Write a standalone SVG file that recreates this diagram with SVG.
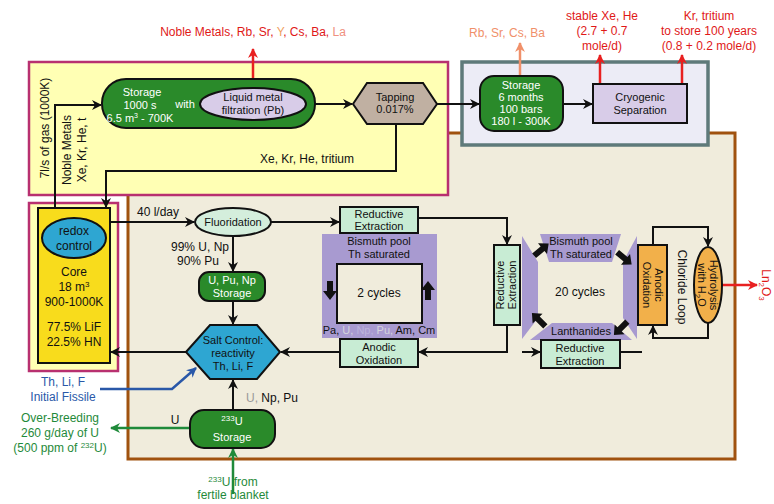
<svg xmlns="http://www.w3.org/2000/svg" width="774" height="504" viewBox="0 0 774 504">
<style>
text{font-family:"Liberation Sans","DejaVu Sans",sans-serif;font-size:11px;fill:#111;text-anchor:middle}
.w{fill:#fff}
.red{fill:#e01818;font-size:12px}
.sal{fill:#f0906a;font-size:12px}
.grn{fill:#1f8a3a;font-size:12px}
.blu{fill:#2a58a8;font-size:12px}
.l{font-size:12px}
.g{fill:#999}
.gw{fill:#d4d4dc}
.gl{fill:#bcb4dc}
.y{fill:#f0a060}
.stor{fill:#2a8a2a;stroke:#111;stroke-width:2}
.lav{fill:#d8cce8;stroke:#111;stroke-width:2}
.mint{fill:#c8ecd4;stroke:#111;stroke-width:2}
.pur{fill:#a89ad0}
.ln{fill:none;stroke:#111;stroke-width:2}
.blk{fill:#111}
</style>
<defs>
<marker id="ab" viewBox="0 0 10 10" refX="9" refY="5" markerWidth="10" markerHeight="10" markerUnits="userSpaceOnUse" orient="auto"><path d="M0,0 L10,5 L0,10 L3,5 Z" fill="#111"/></marker>
<marker id="ar" viewBox="0 0 10 10" refX="9" refY="5" markerWidth="10" markerHeight="10" markerUnits="userSpaceOnUse" orient="auto"><path d="M0,0 L10,5 L0,10 L3,5 Z" fill="#e82020"/></marker>
<marker id="as" viewBox="0 0 10 10" refX="9" refY="5" markerWidth="10" markerHeight="10" markerUnits="userSpaceOnUse" orient="auto"><path d="M0,0 L10,5 L0,10 L3,5 Z" fill="#f0906a"/></marker>
<marker id="ag" viewBox="0 0 10 10" refX="9" refY="5" markerWidth="10" markerHeight="10" markerUnits="userSpaceOnUse" orient="auto"><path d="M0,0 L10,5 L0,10 L3,5 Z" fill="#1f8a3a"/></marker>
<marker id="abl" viewBox="0 0 10 10" refX="9" refY="5" markerWidth="10" markerHeight="10" markerUnits="userSpaceOnUse" orient="auto"><path d="M0,0 L10,5 L0,10 L3,5 Z" fill="#2a58a8"/></marker>
<path id="barrow" d="M-9,-3 L2,-3 L2,-7 L10,0 L2,7 L2,3 L-9,3 Z"/>
</defs>

<!-- background regions -->
<g id="regions">
<rect x="0" y="0" width="774" height="504" fill="#fff"/>
<rect x="128" y="133" width="607" height="326" fill="#f0ecdc" stroke="#a0520f" stroke-width="3"/>
<rect x="29" y="62" width="419" height="133" fill="#ffffb4" stroke="#b83070" stroke-width="2.5"/>
<rect x="462" y="62" width="246" height="83" fill="#ececf6" stroke="#5e7a7a" stroke-width="3.5"/>
<rect x="29" y="203" width="89" height="168" fill="#ffffb4" stroke="#b83070" stroke-width="2.5"/>
</g>

<!-- connectors -->
<g id="connectors">
<path class="ln" d="M55,208 V105 H101" marker-end="url(#ab)"/>
<path class="ln" d="M315,104 H352" marker-end="url(#ab)"/>
<path class="ln" d="M437,104 H479" marker-end="url(#ab)"/>
<path class="ln" d="M563,104 H592" marker-end="url(#ab)"/>
<path class="ln" d="M396,124 V171 H106 V207" marker-end="url(#ab)"/>
<path d="M253,88 V49" stroke="#e82020" stroke-width="2.5" fill="none" marker-end="url(#ar)"/>
<path d="M520,76 V43" stroke="#f0906a" stroke-width="2.5" fill="none" marker-end="url(#as)"/>
<path d="M600,84 V55" stroke="#e82020" stroke-width="2.5" fill="none" marker-end="url(#ar)"/>
<path d="M682,84 V55" stroke="#e82020" stroke-width="2.5" fill="none" marker-end="url(#ar)"/>
<path class="ln" d="M110,222 H194" marker-end="url(#ab)"/>
<path class="ln" d="M271,222 H339" marker-end="url(#ab)"/>
<path class="ln" d="M418,218 H507 V244" marker-end="url(#ab)"/>
<path class="ln" d="M233,236 V271" marker-end="url(#ab)"/>
<path class="ln" d="M233,301 V324" marker-end="url(#ab)"/>
<path class="ln" d="M507,325 V352 H419" marker-end="url(#ab)"/>
<path class="ln" d="M340,352 H281" marker-end="url(#ab)"/>
<path class="ln" d="M186,352 H111" marker-end="url(#ab)"/>
<path class="ln" d="M233,410 V380" marker-end="url(#ab)"/>
<path class="ln" d="M522,352 H540" marker-end="url(#ab)"/>
<path class="ln" d="M620,352 H642"/>
<path class="ln" d="M653,245 V227 H708 V246" marker-end="url(#ab)"/>
<path class="ln" d="M708,323 V338 H653 V326" marker-end="url(#ab)"/>
<path d="M722,285 H757" stroke="#e82020" stroke-width="2.5" fill="none" marker-end="url(#ar)"/>
<path d="M100,389 H172 L196,368" stroke="#2a58a8" stroke-width="2.5" fill="none" marker-end="url(#abl)"/>
<path d="M190,428 H111" stroke="#1f8a3a" stroke-width="2.5" fill="none" marker-end="url(#ag)"/>
<path d="M233,494 V449" stroke="#1f8a3a" stroke-width="2.5" fill="none" marker-end="url(#ag)"/>
</g>

<!-- free labels -->
<g id="labels">
<text class="red" x="253" y="36">Noble Metals, Rb, Sr, <tspan class="y">Y</tspan>, Cs, Ba, <tspan fill="#f09080">La</tspan></text>
<text class="sal" x="507" y="37">Rb, Sr, Cs, Ba</text>
<text class="red" x="602" y="20">stable Xe, He</text>
<text class="red" x="602" y="35">(2.7 + 0.7</text>
<text class="red" x="602" y="50">mole/d)</text>
<text class="red" x="709" y="20">Kr, tritium</text>
<text class="red" x="709" y="35">to store 100 years</text>
<text class="red" x="709" y="50">(0.8 + 0.2 mole/d)</text>
<text class="l" transform="translate(49,128) rotate(-90)">7l/s of gas (1000K)</text>
<text class="l" transform="translate(71,150) rotate(-90)">Noble Metals</text>
<text class="l" transform="translate(86,150) rotate(-90)">Xe, Kr, He, t</text>
<text class="l" x="307" y="163">Xe, Kr, He, tritium</text>
<text class="l" x="158" y="216">40 l/day</text>
<text class="l" x="200" y="251">99% U, Np</text>
<text class="l" x="198" y="265">90% Pu</text>
<text class="l" x="272" y="402"><tspan class="g">U,</tspan> Np, Pu</text>
<text class="l" x="175" y="424">U</text>
<text class="blu" x="63" y="386">Th, Li, F</text>
<text class="blu" x="63" y="401">Initial Fissile</text>
<text class="grn" x="60" y="422">Over-Breeding</text>
<text class="grn" x="60" y="437">260 g/day of U</text>
<text class="grn" x="60" y="452">(500 ppm of <tspan font-size="8" dy="-4">232</tspan><tspan dy="4">U)</tspan></text>
<text class="grn" x="233" y="486"><tspan font-size="8" dy="-4">233</tspan><tspan dy="4">U from</tspan></text>
<text class="grn" x="233" y="499">fertile blanket</text>
<text class="l" transform="translate(678,287) rotate(90)">Chloride Loop</text>
<text class="red" transform="translate(762,285) rotate(90)">Ln<tspan font-size="8" dy="3">2</tspan><tspan dy="-3">O</tspan><tspan font-size="8" dy="3">3</tspan></text>
</g>

<g id="storage1">
<rect class="stor" x="102" y="79" width="213" height="49" rx="24"/>
<text class="w" x="142" y="96">Storage</text>
<text class="w" x="140" y="109">1000 s</text>
<text class="w" x="140" y="122">6.5 m<tspan font-size="7" dy="-4">3</tspan><tspan dy="4"> - 700K</tspan></text>
<text class="w" x="185" y="108">with</text>
</g>
<g id="filtration">
<ellipse class="lav" cx="253" cy="104" rx="53" ry="16"/>
<text x="253" y="101">Liquid metal</text>
<text x="253" y="114">filtration (Pb)</text>
</g>
<g id="tapping">
<polygon points="353,104 367,83 423,83 437,104 423,124 367,124" fill="#c0b0a2" stroke="#111" stroke-width="2"/>
<text x="395" y="101">Tapping</text>
<text x="395" y="113">0.017%</text>
</g>
<g id="storage2">
<rect class="stor" x="480" y="76" width="83" height="55" rx="14"/>
<text class="w" x="521" y="89">Storage</text>
<text class="w" x="521" y="101">6 months</text>
<text class="w" x="521" y="113">100 bars</text>
<text class="w" x="521" y="125">180 l - 300K</text>
</g>
<g id="cryogenic">
<rect class="lav" x="593" y="84" width="94" height="39"/>
<text x="640" y="101">Cryogenic</text>
<text x="640" y="114">Separation</text>
</g>
<g id="core">
<rect x="38" y="208" width="72" height="155" fill="#f8dc1c" stroke="#111" stroke-width="2"/>
<ellipse cx="74" cy="238" rx="32" ry="20" fill="#2ea6d2" stroke="#111" stroke-width="2"/>
<text class="l" x="74" y="235">redox</text>
<text class="l" x="74" y="250">control</text>
<text class="l" x="74" y="276">Core</text>
<text class="l" x="74" y="291">18 m<tspan font-size="8" dy="-4">3</tspan></text>
<text class="l" x="74" y="306">900-1000K</text>
<text class="l" x="74" y="331">77.5% LiF</text>
<text class="l" x="74" y="346">22.5% HN</text>
</g>
<g id="fluoridation">
<ellipse cx="233" cy="222" rx="38" ry="14" fill="#d4eedc" stroke="#111" stroke-width="2"/>
<text x="233" y="226">Fluoridation</text>
</g>
<g id="upnp-storage">
<rect class="stor" x="199" y="272" width="66" height="29" rx="10"/>
<text class="w" x="232" y="284">U, Pu, Np</text>
<text class="w" x="232" y="297">Storage</text>
</g>
<g id="salt-control">
<polygon points="186,352 210,325 257,325 280,352 257,379 210,379" fill="#2ea6d2" stroke="#111" stroke-width="2"/>
<text x="233" y="344">Salt Control:</text>
<text x="233" y="357">reactivity</text>
<text x="233" y="370">Th, Li, F</text>
</g>
<g id="u233-storage">
<rect class="stor" x="190" y="410" width="85" height="38" rx="14"/>
<text class="w" x="232" y="425"><tspan font-size="8" dy="-4">233</tspan><tspan dy="4">U</tspan></text>
<text class="w" x="232" y="441">Storage</text>
</g>
<g id="bismuth-2cycles">
<path class="pur" fill-rule="evenodd" d="M322,234 H437 V338 H322 Z M337,264 V323 H422 V264 Z"/>
<path d="M337,264 V323 H422 V264 Z" fill="none" stroke="#111" stroke-width="2"/>
<text x="379" y="245">Bismuth pool</text>
<text x="379" y="258">Th saturated</text>
<text class="l" x="379" y="297">2 cycles</text>
<text x="379" y="334" font-size="9.5">Pa, <tspan class="gw">U,</tspan> <tspan class="gl">Np,</tspan> <tspan class="gw">Pu,</tspan> Am, Cm</text>
<polygon class="blk" points="327,281 333,281 333,291 337,291 330,300 323,291 327,291"/>
<polygon class="blk" points="425,300 431,300 431,290 435,290 428,281 421,290 425,290"/>
</g>
<g id="re-top">
<rect class="mint" x="340" y="207" width="78" height="26"/>
<text x="379" y="218">Reductive</text>
<text x="379" y="230">Extraction</text>
</g>
<g id="ao-bottom">
<rect class="mint" x="340" y="339" width="78" height="28"/>
<text x="379" y="351">Anodic</text>
<text x="379" y="364">Oxidation</text>
</g>
<g id="re-vertical">
<rect class="mint" x="494" y="245" width="26" height="80"/>
<text transform="translate(504,285) rotate(-90)">Reductive</text>
<text transform="translate(516,285) rotate(-90)">Extraction</text>
</g>
<g id="cycles20">
<polygon class="pur" points="522,236 538,262 538,318 522,339"/>
<polygon class="pur" points="637,236 623,262 623,318 637,339"/>
<polygon class="pur" points="540,234 621,234 612,262 549,262"/>
<polygon class="pur" points="552,323 612,323 632,340 530,340"/>
<text x="581" y="245">Bismuth pool</text>
<text x="581" y="258">Th saturated</text>
<text x="581" y="335">Lanthanides</text>
<text class="l" x="580" y="296">20 cycles</text>
<use href="#barrow" class="blk" transform="translate(541,250) rotate(-40)"/>
<use href="#barrow" class="blk" transform="translate(624,258) rotate(40)"/>
<use href="#barrow" class="blk" transform="translate(621,328) rotate(135)"/>
<use href="#barrow" class="blk" transform="translate(539,320) rotate(-135)"/>
</g>
<g id="re-bottom">
<rect class="mint" x="541" y="340" width="79" height="28"/>
<text x="580" y="352">Reductive</text>
<text x="580" y="365">Extraction</text>
</g>
<g id="anodic-orange">
<rect x="638" y="245" width="29" height="80" fill="#f2b04a" stroke="#111" stroke-width="2"/>
<text transform="translate(655,285) rotate(90)">Anodic</text>
<text transform="translate(643,285) rotate(90)">Oxidation</text>
</g>
<g id="hydrolysis">
<ellipse cx="708" cy="285" rx="14" ry="38" fill="#f2b04a" stroke="#111" stroke-width="2"/>
<text transform="translate(710,285) rotate(90)">Hydrolysis</text>
<text transform="translate(698,285) rotate(90)">with H<tspan font-size="8" dy="3">2</tspan><tspan dy="-3">O</tspan></text>
</g>
</svg>
